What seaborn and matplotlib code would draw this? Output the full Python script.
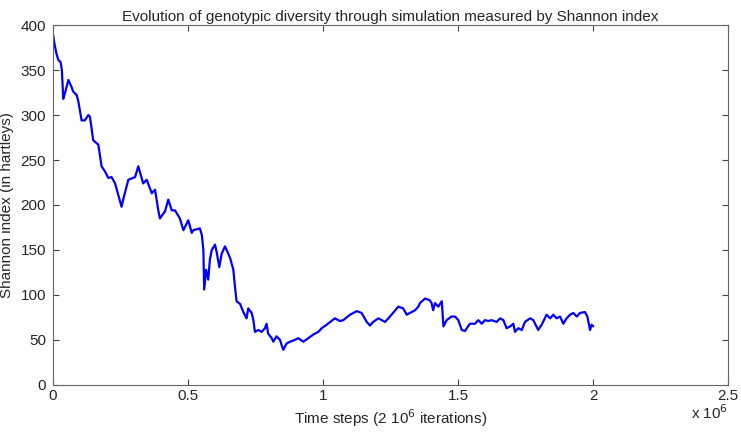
import pandas as pd
import matplotlib.pyplot as plt
import seaborn as sns
import matplotlib
matplotlib.use("Agg")

sns.set_style("ticks")
plt.rcParams["font.family"] = ["Liberation Sans", "DejaVu Sans"]
plt.rcParams["xtick.direction"] = "in"
plt.rcParams["ytick.direction"] = "in"

# time steps (millions) and Shannon index
steps_m = [
    0.000, 0.005, 0.013, 0.020, 0.028, 0.033, 0.038, 0.045, 0.057, 0.069,
    0.075, 0.088, 0.094, 0.106, 0.118, 0.131, 0.137, 0.149, 0.168, 0.180,
    0.193, 0.205, 0.217, 0.230, 0.254, 0.260, 0.279, 0.304, 0.316, 0.334,
    0.347, 0.366, 0.378, 0.390, 0.396, 0.415, 0.427, 0.440, 0.452, 0.470,
    0.483, 0.501, 0.514, 0.520, 0.544, 0.551, 0.557, 0.560, 0.567, 0.575,
    0.581, 0.588, 0.600, 0.606, 0.616, 0.625, 0.637, 0.649, 0.656, 0.668,
    0.674, 0.680, 0.693, 0.705, 0.717, 0.723, 0.736, 0.742, 0.748, 0.760,
    0.773, 0.785, 0.791, 0.797, 0.810, 0.816, 0.828, 0.841, 0.847, 0.853,
    0.865, 0.878, 0.896, 0.908, 0.927, 0.946, 0.964, 0.983, 0.995, 1.014,
    1.044, 1.063, 1.075, 1.100, 1.125, 1.143, 1.162, 1.174, 1.186, 1.205,
    1.230, 1.248, 1.279, 1.297, 1.310, 1.322, 1.341, 1.353, 1.359, 1.378,
    1.396, 1.402, 1.408, 1.415, 1.427, 1.440, 1.446, 1.458, 1.476, 1.489,
    1.501, 1.514, 1.526, 1.544, 1.563, 1.575, 1.588, 1.600, 1.612, 1.625,
    1.643, 1.656, 1.668, 1.680, 1.693, 1.705, 1.711, 1.723, 1.736, 1.748,
    1.767, 1.779, 1.797, 1.810, 1.828, 1.841, 1.853, 1.865, 1.878, 1.890,
    1.902, 1.915, 1.927, 1.940, 1.952, 1.970, 1.979, 1.989, 1.995, 2.001,
]
shannon = [
    390, 380, 368, 361, 359, 350, 318, 325, 339, 331,
    326, 322, 315, 294, 294, 300, 298, 272, 267, 243,
    237, 230, 231, 224, 198, 206, 228, 231, 243, 224,
    228, 213, 217, 194, 185, 193, 206, 194, 194, 185,
    172, 183, 169, 172, 174, 167, 150, 106, 128, 117,
    139, 150, 156, 148, 131, 146, 154, 146, 141, 128,
    109, 93, 90, 81, 74, 85, 80, 72, 59, 61,
    59, 63, 68, 57, 52, 48, 54, 50, 44, 39,
    46, 48, 50, 52, 48, 52, 56, 59, 63, 67,
    74, 71, 72, 78, 82, 80, 70, 66, 70, 74,
    70, 76, 87, 85, 78, 80, 83, 87, 91, 96,
    94, 91, 83, 91, 87, 93, 65, 72, 76, 76,
    72, 61, 60, 68, 68, 72, 68, 72, 71, 72,
    70, 74, 72, 63, 65, 68, 59, 63, 61, 70,
    74, 72, 61, 67, 78, 74, 78, 74, 76, 68,
    74, 78, 80, 76, 80, 81, 76, 61, 67, 65,
]

df = pd.DataFrame({"step": [s * 1e6 for s in steps_m], "shannon": shannon})

fig = plt.figure(figsize=(7.41, 4.32), dpi=100)
ax = fig.add_axes([0.0715, 0.109, 0.911, 0.833])

sns.lineplot(data=df, x="step", y="shannon", ax=ax, color="#0000ff",
             linewidth=1.6, sort=False, estimator=None)

ax.set_xlim(0, 2.5e6)
ax.set_ylim(0, 400)
ax.set_xticks([0, 0.5e6, 1e6, 1.5e6, 2e6, 2.5e6])
ax.set_xticklabels(["0", "0.5", "1", "1.5", "2", "2.5"])
ax.set_yticks(range(0, 401, 50))
ax.tick_params(labelsize=11, top=True, right=True, length=4, color="#444444", pad=3)
ax.tick_params(axis="y", pad=5)
for side in ["top", "right", "left", "bottom"]:
    ax.spines[side].set_visible(True)
    ax.spines[side].set_color("#666666")
    ax.spines[side].set_linewidth(0.8)

ax.set_title("Evolution of genotypic diversity through simulation measured by Shannon index",
             fontsize=11, pad=3)
ax.set_xlabel("Time steps (2 10$^6$ iterations)", fontsize=11, labelpad=3)
ax.set_ylabel("Shannon index (in hartleys)", fontsize=11, labelpad=5)
ax.text(1.0, -0.096, "x 10$^6$", transform=ax.transAxes, ha="right", va="baseline", fontsize=11)

fig.savefig("out.png", dpi=100)
